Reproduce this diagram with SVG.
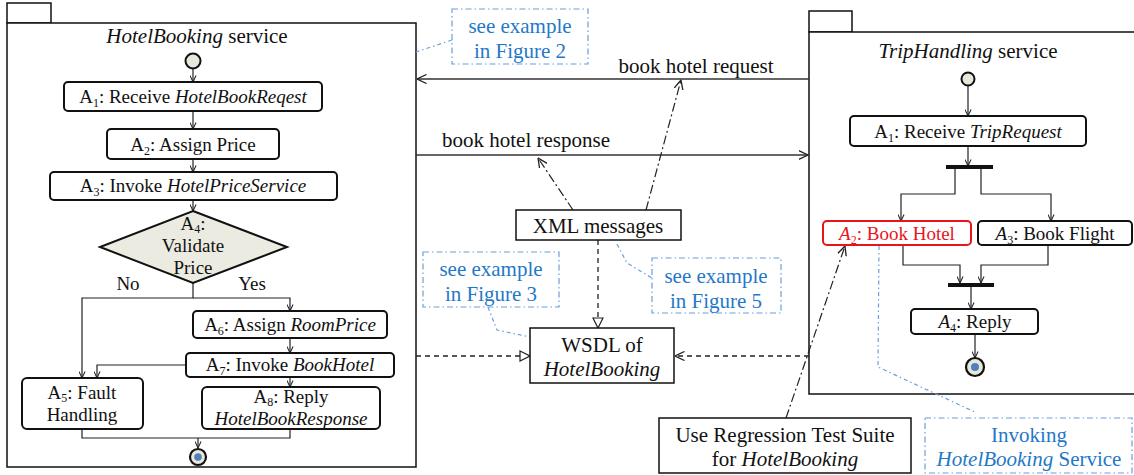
<svg xmlns="http://www.w3.org/2000/svg" width="1134" height="475" viewBox="0 0 1134 475" font-family="'Liberation Serif', 'DejaVu Serif', serif">
<defs>
<style>
text{font-family:'Liberation Serif','DejaVu Serif',serif;font-size:19px;fill:#111;text-anchor:middle}
.big{font-size:21px}
.i{font-style:italic}
.sub{font-size:12px}
.blue{fill:#1f78c8}
.red{fill:#e8141a}
.pkg{fill:#fff;stroke:#111;stroke-width:1.5}
.box{fill:#fff;stroke:#111;stroke-width:2}
.plain{fill:#fff;stroke:#111;stroke-width:1.5}
.ln{fill:none;stroke:#222;stroke-width:1.2}
.msg{fill:none;stroke:#333;stroke-width:1.5}
.dd{fill:none;stroke:#222;stroke-width:1.2;stroke-dasharray:9,3,2,3}
.dash{fill:none;stroke:#222;stroke-width:1.3;stroke-dasharray:5,4}
.note{fill:#fff;stroke:#6a9fdc;stroke-width:1.2;stroke-dasharray:6,3,1.5,3}
.noteln{fill:none;stroke:#6a9fdc;stroke-width:1.2;stroke-dasharray:4,3,1.5,3}
.bar{stroke:#111;stroke-width:4}
</style>
<marker id="ah" viewBox="0 0 8 8" refX="7.5" refY="4" markerWidth="7" markerHeight="7" markerUnits="userSpaceOnUse" orient="auto"><path d="M0,0.5 L7.5,4 L0,7.5" fill="none" stroke="#222" stroke-width="1.2"/></marker>
<marker id="ao" viewBox="0 0 10 10" refX="9.5" refY="5" markerWidth="10" markerHeight="10" markerUnits="userSpaceOnUse" orient="auto"><path d="M0,0.5 L9.5,5 L0,9.5" fill="none" stroke="#222" stroke-width="1.3"/></marker>
<marker id="tri" viewBox="0 0 12 12" refX="11" refY="6" markerWidth="12" markerHeight="12" markerUnits="userSpaceOnUse" orient="auto"><path d="M1,1 L11,6 L1,11 Z" fill="#fff" stroke="#222" stroke-width="1.2"/></marker>
</defs>

<!-- Packages -->
<g id="hotelbooking-service">
<rect class="pkg" x="7" y="3" width="44" height="20"/>
<rect class="pkg" x="7" y="23" width="409" height="444"/>
<text class="big" x="197" y="43"><tspan class="i">HotelBooking</tspan> service</text>
</g>
<g id="triphandling-service">
<rect class="pkg" x="809" y="11" width="43" height="21"/>
<rect class="pkg" x="809" y="32" width="340" height="362"/>
<text class="big" x="968" y="58"><tspan class="i">TripHandling</tspan> service</text>
</g>

<!-- Connectors -->
<g id="connectors">
<!-- left flow -->
<line class="ln" x1="193" y1="69" x2="193" y2="82" marker-end="url(#ah)"/>
<line class="ln" x1="193" y1="111" x2="193" y2="129" marker-end="url(#ah)"/>
<line class="ln" x1="193" y1="159" x2="193" y2="172" marker-end="url(#ah)"/>
<line class="ln" x1="193" y1="200" x2="193" y2="211" marker-end="url(#ah)"/>
<polyline class="ln" points="193,283 193,298 82,298 82,378" marker-end="url(#ah)"/>
<polyline class="ln" points="193,298 290,298 290,311" marker-end="url(#ah)"/>
<line class="ln" x1="290" y1="338" x2="290" y2="353" marker-end="url(#ah)"/>
<line class="ln" x1="290" y1="377" x2="290" y2="387" marker-end="url(#ah)"/>
<polyline class="ln" points="186,365 97,365 97,378" marker-end="url(#ah)"/>
<polyline class="ln" points="82,429 82,438 290,438 290,429"/>
<line class="ln" x1="198" y1="438" x2="198" y2="448" marker-end="url(#ah)"/>
<!-- right flow -->
<line class="ln" x1="968" y1="86" x2="968" y2="116" marker-end="url(#ah)"/>
<line class="ln" x1="968" y1="146" x2="968" y2="166" marker-end="url(#ah)"/>
<polyline class="ln" points="955,169 955,194 901,194 901,221" marker-end="url(#ah)"/>
<polyline class="ln" points="981,169 981,194 1051,194 1051,221" marker-end="url(#ah)"/>
<polyline class="ln" points="903,245 903,265 960,265 960,283" marker-end="url(#ah)"/>
<polyline class="ln" points="1048,245 1048,265 981,265 981,283" marker-end="url(#ah)"/>
<line class="ln" x1="971" y1="287" x2="971" y2="309" marker-end="url(#ah)"/>
<line class="ln" x1="975" y1="334" x2="975" y2="358" marker-end="url(#ah)"/>
<!-- messages -->
<line class="msg" x1="809" y1="79" x2="417" y2="79" marker-end="url(#ao)"/>
<line class="msg" x1="416" y1="155" x2="808" y2="155" marker-end="url(#ao)"/>
<line class="dd" x1="573" y1="210" x2="538" y2="158" marker-end="url(#ao)"/>
<line class="dd" x1="646" y1="210" x2="681" y2="80" marker-end="url(#ao)"/>
<line class="dash" x1="598" y1="240" x2="598" y2="328" marker-end="url(#tri)"/>
<line class="dash" x1="416" y1="356" x2="530" y2="356" marker-end="url(#tri)"/>
<line class="dash" x1="809" y1="356" x2="675" y2="356" marker-end="url(#ao)"/>
<line class="dd" x1="786" y1="418" x2="845" y2="246" marker-end="url(#ao)"/>
<!-- note links -->
<polyline class="noteln" points="452,40 416,52"/>
<polyline class="noteln" points="488,307 497,330 530,337"/>
<polyline class="noteln" points="617,244 627,263 652,278"/>
<polyline class="noteln" points="879,246 878,367 977,413"/>
</g>

<g id="message-labels">
<text class="big" x="696" y="73">book hotel request</text>
<text class="big" x="526" y="147">book hotel response</text>
</g>

<!-- Left nodes -->
<g id="hb-start"><circle cx="193" cy="61" r="7.5" fill="#e9e7dc" stroke="#111" stroke-width="2"/></g>
<g id="hb-a1"><rect class="box" x="64" y="82" width="258" height="29" rx="4"/>
<text x="193" y="103">A<tspan class="sub" dy="4">1</tspan><tspan dy="-4">: Receive </tspan><tspan class="i">HotelBookReqest</tspan></text></g>
<g id="hb-a2"><rect class="box" x="107" y="129" width="172" height="30" rx="4"/>
<text x="193" y="151">A<tspan class="sub" dy="4">2</tspan><tspan dy="-4">: Assign Price</tspan></text></g>
<g id="hb-a3"><rect class="box" x="50" y="172" width="287" height="28" rx="4"/>
<text x="193" y="192">A<tspan class="sub" dy="4">3</tspan><tspan dy="-4">: Invoke </tspan><tspan class="i">HotelPriceService</tspan></text></g>
<g id="hb-a4"><polygon points="193,211 287,247 193,283 100,247" fill="#ecebe1" stroke="#111" stroke-width="2"/>
<text x="193" y="230">A<tspan class="sub" dy="3">4</tspan><tspan dy="-3">:</tspan></text>
<text x="193" y="252">Validate</text>
<text x="193" y="274">Price</text></g>
<g id="hb-labels"><text x="128" y="290">No</text><text x="252" y="290">Yes</text></g>
<g id="hb-a6"><rect class="box" x="193" y="311" width="194" height="27" rx="4"/>
<text x="290" y="331">A<tspan class="sub" dy="4">6</tspan><tspan dy="-4">: Assign </tspan><tspan class="i">RoomPrice</tspan></text></g>
<g id="hb-a7"><rect class="box" x="186" y="353" width="208" height="24" rx="4"/>
<text x="290" y="371">A<tspan class="sub" dy="4">7</tspan><tspan dy="-4">: Invoke </tspan><tspan class="i">BookHotel</tspan></text></g>
<g id="hb-a8"><rect class="box" x="202" y="387" width="178" height="42" rx="5"/>
<text x="291" y="403">A<tspan class="sub" dy="3">8</tspan><tspan dy="-3">: Reply</tspan></text>
<text class="i" x="291" y="425">HotelBookResponse</text></g>
<g id="hb-a5"><rect class="box" x="22" y="378" width="121" height="51" rx="5"/>
<text x="82" y="399">A<tspan class="sub" dy="3">5</tspan><tspan dy="-3">: Fault</tspan></text>
<text x="82" y="421">Handling</text></g>
<g id="hb-end"><circle cx="198" cy="457" r="8" fill="#e9e7dc" stroke="#111" stroke-width="2.2"/><circle cx="198" cy="457" r="3.8" fill="#4f81bd"/></g>

<!-- Right nodes -->
<g id="th-start"><circle cx="968" cy="79" r="6.5" fill="#e9e7dc" stroke="#111" stroke-width="2"/></g>
<g id="th-a1"><rect class="box" x="850" y="116" width="236" height="30" rx="4"/>
<text x="968" y="138">A<tspan class="sub" dy="4">1</tspan><tspan dy="-4">: Receive </tspan><tspan class="i">TripRequest</tspan></text></g>
<g id="th-fork"><line class="bar" x1="946" y1="167" x2="993" y2="167"/></g>
<g id="th-a2"><rect x="823" y="221" width="148" height="24" rx="4" fill="#fff" stroke="#e8141a" stroke-width="2"/>
<text class="red" x="897" y="240"><tspan class="i">A</tspan><tspan class="sub" dy="4">2</tspan><tspan dy="-4">: Book Hotel</tspan></text></g>
<g id="th-a3"><rect class="box" x="978" y="221" width="154" height="24" rx="4"/>
<text x="1055" y="240"><tspan class="i">A</tspan><tspan class="sub" dy="4">3</tspan><tspan dy="-4">: Book Flight</tspan></text></g>
<g id="th-join"><line class="bar" x1="948" y1="285" x2="994" y2="285"/></g>
<g id="th-a4"><rect class="box" x="911" y="309" width="127" height="25" rx="4"/>
<text x="975" y="328"><tspan class="i">A</tspan><tspan class="sub" dy="4">4</tspan><tspan dy="-4">: Reply</tspan></text></g>
<g id="th-end"><circle cx="975" cy="367" r="9" fill="#e9e7dc" stroke="#111" stroke-width="2.2"/><circle cx="975" cy="367" r="4" fill="#4f81bd"/></g>

<!-- Middle nodes -->
<g id="xml-messages"><rect class="plain" x="516" y="210" width="165" height="30"/>
<text class="big" x="598" y="233">XML messages</text></g>
<g id="wsdl"><rect class="plain" x="530" y="328" width="144" height="55"/>
<text class="big" x="602" y="352">WSDL of</text>
<text class="big i" x="602" y="376">HotelBooking</text></g>
<g id="regression-suite"><rect class="plain" x="659" y="418" width="252" height="55"/>
<text class="big" x="785" y="442">Use Regression Test Suite</text>
<text class="big" x="785" y="466">for <tspan class="i">HotelBooking</tspan></text></g>

<!-- Notes -->
<g id="note-fig2"><rect class="note" x="452" y="9" width="136" height="55"/>
<text class="big blue" x="520" y="33">see example</text>
<text class="big blue" x="520" y="58">in Figure 2</text></g>
<g id="note-fig3"><rect class="note" x="423" y="252" width="136" height="55"/>
<text class="big blue" x="491" y="276">see example</text>
<text class="big blue" x="491" y="301">in Figure 3</text></g>
<g id="note-fig5"><rect class="note" x="652" y="258" width="129" height="55"/>
<text class="big blue" x="716" y="283">see example</text>
<text class="big blue" x="716" y="308">in Figure 5</text></g>
<g id="note-invoking"><rect class="note" x="925" y="418" width="207" height="55"/>
<text class="big blue" x="1029" y="442">Invoking</text>
<text class="big blue" x="1029" y="466"><tspan class="i">HotelBooking</tspan> Service</text></g>
</svg>
